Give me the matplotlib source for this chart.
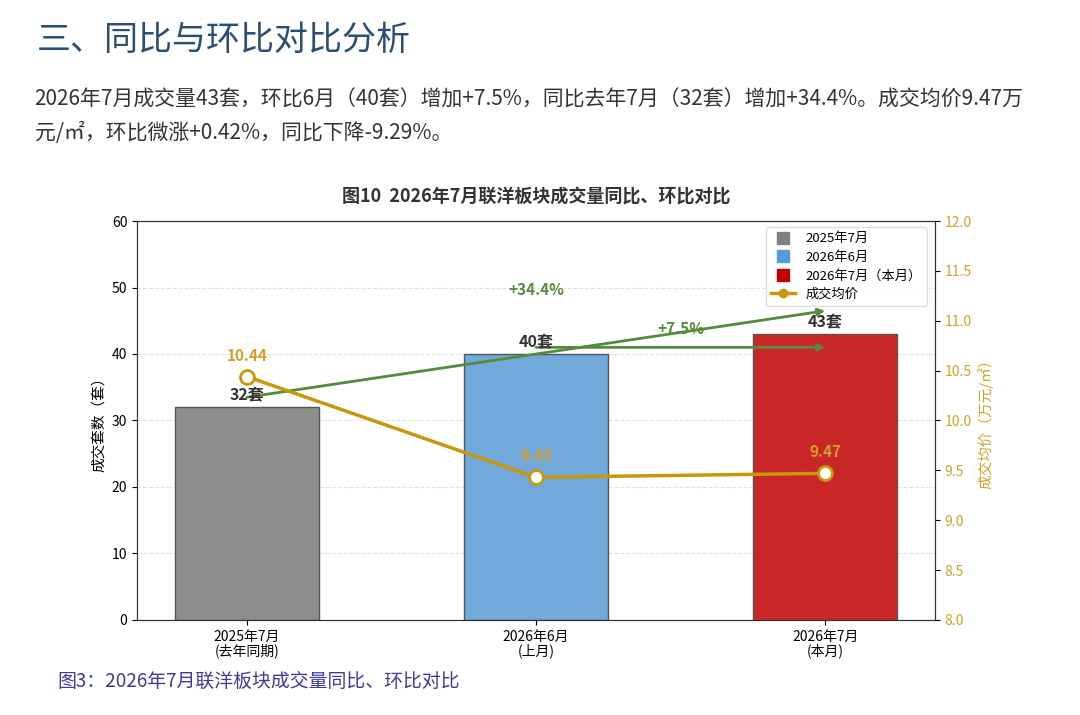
import matplotlib
matplotlib.use("Agg")
import matplotlib.pyplot as plt
from matplotlib.lines import Line2D

plt.rcParams["font.family"] = ["Noto Sans CJK SC", "DejaVu Sans"]
plt.rcParams["axes.unicode_minus"] = False

# data
periods = ["2025年7月\n(去年同期)", "2026年6月\n(上月)", "2026年7月\n(本月)"]
legend_names = ["2025年7月", "2026年6月", "2026年7月（本月）"]
counts = [32, 40, 43]
prices = [10.44, 9.43, 9.47]
yoy_text = "+34.4%"
mom_text = "+7.5%"

heading = "三、同比与环比对比分析"
para1 = "2026年7月成交量43套，环比6月（40套）增加+7.5%，同比去年7月（32套）增加+34.4%。成交均价9.47万"
para2 = "元/㎡，环比微涨+0.42%，同比下降-9.29%。"
chart_title = "图10  2026年7月联洋板块成交量同比、环比对比"
caption = "图3：2026年7月联洋板块成交量同比、环比对比"

bar_colors = ["#808080", "#5b9bd5", "#c00000"]
bar_fill = ["#8e8e8e", "#72a9db", "#c92727"]
gold = "#c9970c"
gold_txt = "#d0a12a"
green = "#548b3c"

fig = plt.figure(figsize=(10.8, 7.15), dpi=100)
fig.patch.set_facecolor("white")

fig.text(0.034, 0.944, heading, fontsize=24.5, color="#2d4e73", va="center", ha="left")
fig.text(0.032, 0.860, para1, fontsize=15, color="#333333", va="center", ha="left")
fig.text(0.032, 0.814, para2, fontsize=15, color="#333333", va="center", ha="left")
fig.text(0.053, 0.047, caption, fontsize=13.6, color="#3b3b9c", va="center", ha="left")

ax = fig.add_axes([0.1269, 0.1329, 0.7389, 0.558])
x = range(len(counts))
ax.bar(x, counts, width=0.5, color=bar_fill, edgecolor="#555555", linewidth=1, zorder=2)
ax.set_ylim(0, 60)
ax.set_xlim(-0.38, 2.38)
ax.set_xticks(list(x))
ax.set_xticklabels(periods, fontsize=10, linespacing=1.0)
ax.tick_params(axis="y", labelsize=10)
ax.set_ylabel("成交套数（套）", fontsize=10.5)
ax.yaxis.grid(True, linestyle="--", color="#e3e3e3", linewidth=0.8, zorder=0)
ax.set_axisbelow(True)
for s in ax.spines.values():
    s.set_color("#333333")

for i, c in enumerate(counts):
    ax.text(i, c + 1.8, f"{c}套", ha="center", va="center", fontsize=11.5,
            fontweight="bold", color="#333333", zorder=5)

# yoy / mom arrows
ax.annotate("", xy=(2, counts[2] + 3.5), xytext=(0, counts[0] + 1.5),
            arrowprops=dict(arrowstyle="-|>", color=green, lw=2, mutation_scale=10,
                            shrinkA=0, shrinkB=0), zorder=4)
ax.annotate("", xy=(2, counts[1] + 1), xytext=(1, counts[1] + 1),
            arrowprops=dict(arrowstyle="-|>", color=green, lw=2, mutation_scale=10,
                            shrinkA=0, shrinkB=0), zorder=4)
ax.text(1, 49.6, yoy_text, ha="center", va="center", fontsize=11,
        fontweight="bold", color=green)
ax.text(1.5, 43.8, mom_text, ha="center", va="center", fontsize=11,
        fontweight="bold", color=green)

ax.set_title(chart_title, fontsize=13, fontweight="bold", color="#333333", pad=14)

ax2 = ax.twinx()
ax2.plot(list(x), prices, color=gold, lw=2.5, marker="o", markersize=10,
         markerfacecolor="white", markeredgecolor=gold, markeredgewidth=2, zorder=6)
ax2.set_ylim(8, 12)
ax2.set_yticks([8.0, 8.5, 9.0, 9.5, 10.0, 10.5, 11.0, 11.5, 12.0])
ax2.tick_params(axis="y", labelsize=10, labelcolor=gold_txt)
ax2.set_ylabel("成交均价（万元/㎡）", fontsize=10.5, color=gold_txt)
for s in ax2.spines.values():
    s.set_color("#333333")
for i, p in enumerate(prices):
    ax2.text(i, p + 0.21, f"{p:.2f}", ha="center", va="center", fontsize=11,
             fontweight="bold", color=gold_txt)

handles = [Line2D([], [], marker="s", linestyle="none", markersize=9,
                  color=c) for c in bar_colors]
handles.append(Line2D([], [], color=gold, lw=2.5, marker="o", markersize=6,
                      markerfacecolor=gold))
ax2.legend(handles, legend_names + ["成交均价"], loc="upper right", fontsize=9.5,
           handlelength=1.8, framealpha=0.95, edgecolor="#dddddd",
           bbox_to_anchor=(0.995, 0.995), labelspacing=0.42, borderaxespad=0.3)

fig.savefig("out.png", dpi=100)
